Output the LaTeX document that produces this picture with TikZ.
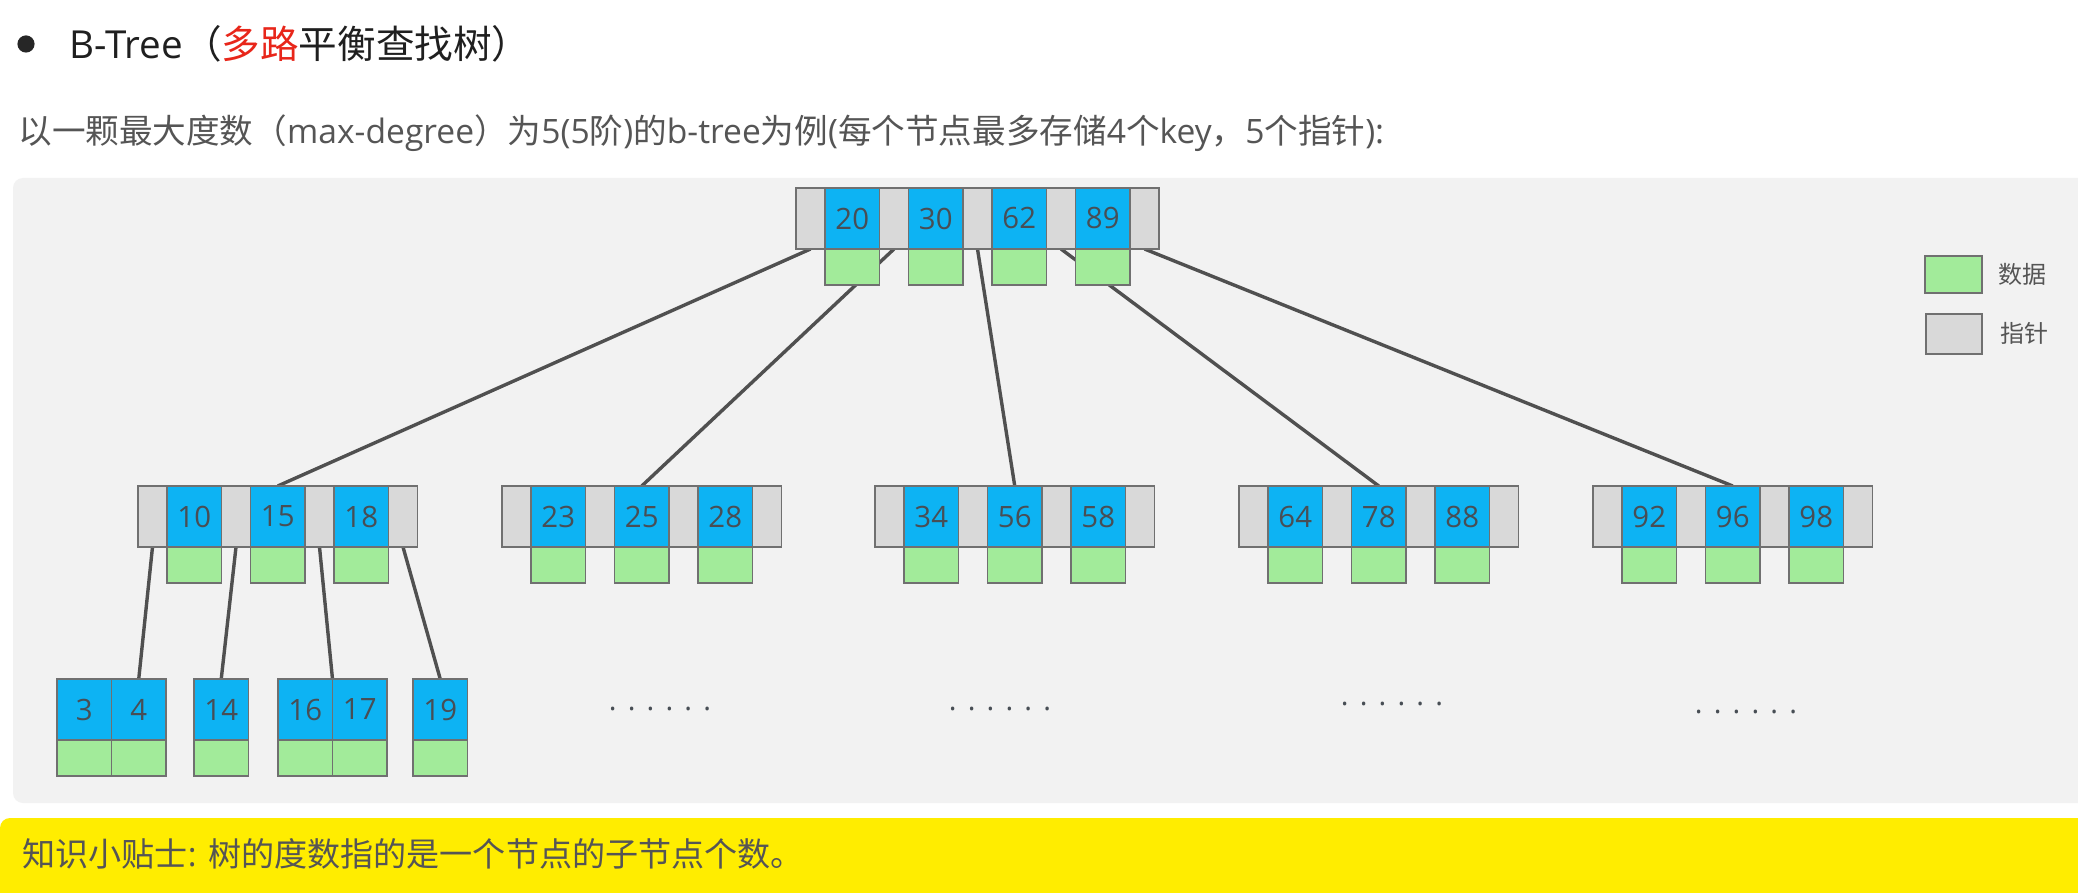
\documentclass[tikz,border=0pt]{standalone}
\usepackage{fontspec}
\setmainfont{Open Sans}
\newfontfamily\cjk{Noto Sans CJK SC}
\definecolor{keyblue}{HTML}{0DB3F3}
\definecolor{datagreen}{HTML}{A2EB9A}
\definecolor{ptrgray}{HTML}{D9D9D9}
\definecolor{edgegray}{HTML}{707070}
\definecolor{panelgray}{HTML}{F2F2F2}
\definecolor{tipyellow}{HTML}{FFED00}
\definecolor{linkgray}{HTML}{505050}
\definecolor{numgray}{HTML}{484E55}
\definecolor{txtgray}{HTML}{555555}
\definecolor{titlered}{HTML}{E8261A}
\pgfdeclarelayer{back}
\pgfdeclarelayer{links}
\pgfsetlayers{back,links,main}
\newcommand\sixdots{.\kern5.6pt.\kern5.6pt.\kern5.6pt.\kern5.6pt.\kern5.6pt.}
\newcommand\tnode[5]{%
 \node[ptrbox,anchor=north west] (#1p0) at (#2) {};
 \node[keybox,anchor=north west] (#1k1) at (#1p0.north east) {#3};
 \node[ptrbox,anchor=north west] (#1p1) at (#1k1.north east) {};
 \node[keybox,anchor=north west] (#1k2) at (#1p1.north east) {#4};
 \node[ptrbox,anchor=north west] (#1p2) at (#1k2.north east) {};
 \node[keybox,anchor=north west] (#1k3) at (#1p2.north east) {#5};
 \node[ptrbox,anchor=north west] (#1p3) at (#1k3.north east) {};
 \node[databox,anchor=north] (#1d1) at (#1k1.south) {};
 \node[databox,anchor=north] (#1d2) at (#1k2.south) {};
 \node[databox,anchor=north] (#1d3) at (#1k3.south) {};
}
\begin{document}
\begin{tikzpicture}[x=0.5pt,y=-0.5pt,
  cell/.style={draw=edgegray,line width=0.65pt,inner sep=0pt,outer sep=0pt},
  keybox/.style={cell,fill=keyblue,minimum width=27.25pt,minimum height=30.5pt,
     text=numgray,font=\fontsize{14.7}{16}\selectfont},
  ptrbox/.style={cell,fill=ptrgray,minimum width=14.5pt,minimum height=30.5pt},
  databox/.style={cell,fill=datagreen,minimum width=27.25pt,minimum height=18pt},
  link/.style={draw=linkgray,line width=1.7pt},
  dotrow/.style={text=numgray,font=\fontsize{14.5}{16}\selectfont,inner sep=0pt}]
\useasboundingbox (0,0) rectangle (2078,893);
\clip (0,0) rectangle (2078,893);
\begin{pgfonlayer}{back}
\fill[white] (0,0) rectangle (2078,893);
\fill[panelgray,rounded corners=5pt] (13,178) rectangle (2120,803);
\fill[tipyellow,rounded corners=5pt] (0,818) rectangle (2120,930);
\end{pgfonlayer}
% heading
\fill[black!85] (26,44) circle[radius=4.3pt];
\node[anchor=west,inner sep=0pt,text=black!88,font=\fontsize{19.3}{21}\selectfont] (title) at (69,44)
  {B-Tree{\cjk （}{\cjk\color{titlered}多路}{\cjk 平衡查找树）}};
\node[anchor=west,inner sep=0pt,text=txtgray,font=\fontsize{16.8}{19}\selectfont] (intro) at (18,133)
  {{\cjk 以一颗最大度数（}max-degree{\cjk ）为}5(5{\cjk 阶}){\cjk 的}b-tree{\cjk 为例}({\cjk 每个节点最多存储}4{\cjk 个}key{\cjk ，}5{\cjk 个指针}):};
\node[anchor=west,inner sep=0pt,text=txtgray,font=\fontsize{16.55}{18}\selectfont] (tip) at (22,854)
  {{\cjk 知识小贴士}: {\cjk 树的度数指的是一个节点的子节点个数。}};
% root
\node[ptrbox,anchor=north west] (rp0) at (796,188) {};
\node[keybox,anchor=north west] (rk1) at (rp0.north east) {20};
\node[ptrbox,anchor=north west] (rp1) at (rk1.north east) {};
\node[keybox,anchor=north west] (rk2) at (rp1.north east) {30};
\node[ptrbox,anchor=north west] (rp2) at (rk2.north east) {};
\node[keybox,anchor=north west] (rk3) at (rp2.north east) {62};
\node[ptrbox,anchor=north west] (rp3) at (rk3.north east) {};
\node[keybox,anchor=north west] (rk4) at (rp3.north east) {89};
\node[ptrbox,anchor=north west] (rp4) at (rk4.north east) {};
\node[databox,anchor=north] (rd1) at (rk1.south) {};
\node[databox,anchor=north] (rd2) at (rk2.south) {};
\node[databox,anchor=north] (rd3) at (rk3.south) {};
\node[databox,anchor=north] (rd4) at (rk4.south) {};
% second level
\tnode{a}{138,486}{10}{15}{18}
\tnode{b}{502,486}{23}{25}{28}
\tnode{c}{875,486}{34}{56}{58}
\tnode{d}{1239,486}{64}{78}{88}
\tnode{e}{1593,486}{92}{96}{98}
% leaves
\node[keybox,anchor=north west] (l3) at (57,679) {3};
\node[keybox,anchor=north west] (l4) at (l3.north east) {4};
\node[keybox,anchor=north west] (l14) at (194,679) {14};
\node[keybox,anchor=north west] (l16) at (278,679) {16};
\node[keybox,anchor=north west] (l17) at (l16.north east) {17};
\node[keybox,anchor=north west] (l19) at (413,679) {19};
\foreach \n in {l3,l4,l14,l16,l17,l19} \node[databox,anchor=north] (\n d) at (\n.south) {};
% dots
\node[dotrow] (dots1) at (660,709) {\sixdots};
\node[dotrow] (dots2) at (1000,709) {\sixdots};
\node[dotrow] (dots3) at (1392,704) {\sixdots};
\node[dotrow] (dots4) at (1746,712) {\sixdots};
% links (behind the boxes)
\begin{pgfonlayer}{links}
\draw[link] (rp0.south) -- (ak2.north);
\draw[link] (rp1.south) -- (bk2.north);
\draw[link] (rp2.south) -- (ck2.north);
\draw[link] (rp3.south) -- (dk2.north);
\draw[link] (rp4.south) -- (ek2.north);
\draw[link] (ap0.south) -- (l4.north);
\draw[link] (ap1.south) -- (l14.north);
\draw[link] (ap2.south) -- (l16.north east);
\draw[link] (ap3.south) -- (l19.north);
\end{pgfonlayer}
% legend
\node[cell,fill=datagreen,anchor=north west,minimum width=28.5pt,minimum height=18.5pt] (legdata) at (1925,256) {};
\node[cell,fill=ptrgray,anchor=north west,minimum width=28pt,minimum height=20pt] (legptr) at (1926,314) {};
\node[anchor=west,inner sep=0pt,text=txtgray,font=\cjk\fontsize{12}{14}\selectfont] (legdatat) at (1998,274) {数据};
\node[anchor=west,inner sep=0pt,text=txtgray,font=\cjk\fontsize{12}{14}\selectfont] (legptrt) at (2000,333) {指针};
\end{tikzpicture}
\end{document}
